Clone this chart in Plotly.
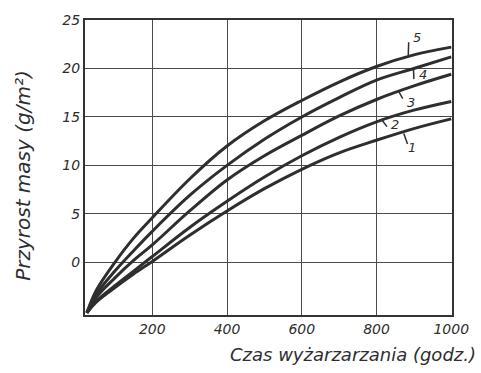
import plotly.graph_objects as go

# Data
hours = [25, 50, 100, 150, 200, 300, 400, 500, 600, 700, 800, 900, 1000]
curve_1 = [-5.2, -4.1, -2.6, -1.2, 0.1, 2.8, 5.3, 7.6, 9.6, 11.3, 12.6, 13.8, 14.8]
curve_2 = [-5.2, -4.0, -2.4, -0.9, 0.6, 3.6, 6.3, 8.8, 11.0, 12.9, 14.5, 15.7, 16.6]
curve_3 = [-5.2, -3.6, -1.6, 0.2, 1.8, 5.3, 8.5, 11.0, 13.1, 15.1, 16.8, 18.2, 19.4]
curve_4 = [-5.2, -3.3, -0.9, 1.2, 3.2, 6.9, 10.0, 12.7, 15.0, 17.0, 18.8, 20.0, 21.2]
curve_5 = [-5.2, -2.9, 0.0, 2.5, 4.6, 8.6, 12.0, 14.6, 16.7, 18.6, 20.2, 21.4, 22.2]
series = [curve_1, curve_2, curve_3, curve_4, curve_5]
series_names = ["1", "2", "3", "4", "5"]

x_ticks = [200, 400, 600, 800, 1000]
y_ticks = [0, 5, 10, 15, 20, 25]
x_title = "Czas wyżarzarzania (godz.)"
y_title = "Przyrost masy (g/m²)"

# label placements: (tick x0, y0, x1, y1, text x, text y)
label_marks = [
    (873, 13.3, 883, 12.2, 895, 11.8),
    (816, 14.6, 828, 14.0, 850, 14.2),
    (860, 17.6, 870, 16.9, 892, 16.5),
    (899, 19.95, 900, 18.9, 925, 19.4),
    (885, 21.4, 886, 22.7, 908, 23.2),
]

INK = "#2e2e2e"
FONT = "DejaVu Sans"

fig = go.Figure()
for ys, name in zip(series, series_names):
    fig.add_trace(go.Scatter(
        x=hours, y=ys, mode="lines", name=name,
        line=dict(color=INK, width=3, shape="spline", smoothing=1.0),
        showlegend=False, hoverinfo="skip",
    ))

for (x0, y0, x1, y1, tx, ty), name in zip(label_marks, series_names):
    fig.add_shape(type="line", xref="x", yref="y", x0=x0, y0=y0, x1=x1, y1=y1,
                  line=dict(color=INK, width=1.5))
    fig.add_annotation(x=tx, y=ty, xref="x", yref="y", text=name, showarrow=False,
                       font=dict(family=FONT, size=13, color=INK, style="italic"))

fig.update_xaxes(
    range=[20, 1002], tickvals=x_ticks, ticktext=[str(v) for v in x_ticks],
    showgrid=True, gridcolor="#4a4a4a", gridwidth=1.4,
    showline=True, mirror=True, linecolor="#333333", linewidth=2,
    zeroline=False, ticks="",
    tickfont=dict(family=FONT, size=14, color=INK, style="italic"),
)
fig.update_yaxes(
    range=[-5.43, 25], tickvals=y_ticks, ticktext=[str(v) for v in y_ticks],
    showgrid=True, gridcolor="#4a4a4a", gridwidth=1.4,
    showline=True, mirror=True, linecolor="#333333", linewidth=2,
    zeroline=False, ticks="",
    tickfont=dict(family=FONT, size=14, color=INK, style="italic"),
)

fig.add_annotation(xref="paper", yref="paper", x=1.07, y=-0.135, xanchor="right", yanchor="middle",
                   text=x_title, showarrow=False,
                   font=dict(family=FONT, size=18, color=INK, style="italic"))
fig.add_annotation(xref="paper", yref="paper", x=-0.169, y=0.475, xanchor="center", yanchor="middle",
                   text=y_title, showarrow=False, textangle=-90,
                   font=dict(family=FONT, size=20, color=INK, style="italic"))

fig.update_layout(
    width=481, height=373,
    margin=dict(l=85, r=24, t=18, b=58),
    paper_bgcolor="white", plot_bgcolor="white",
)

fig.write_html("out.html")
